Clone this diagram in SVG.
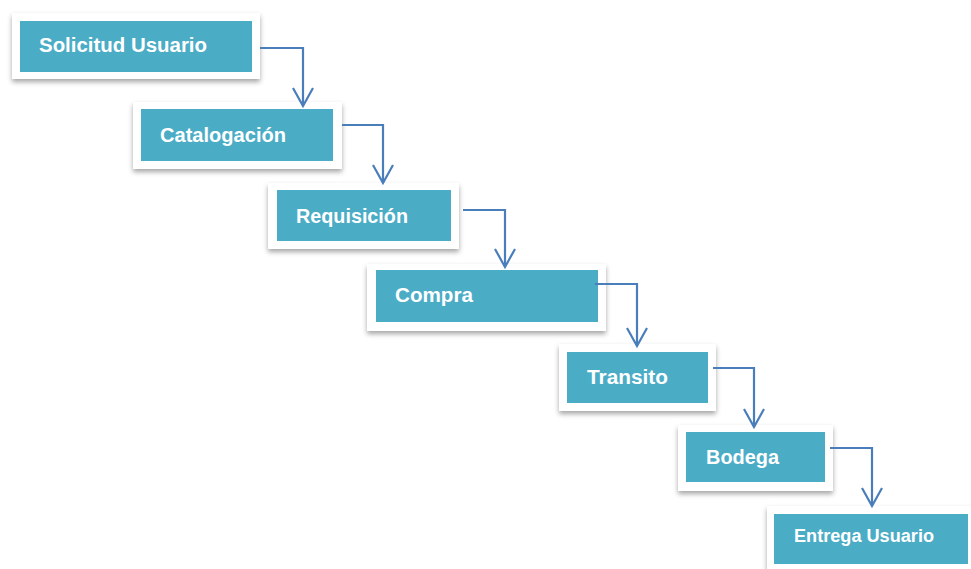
<svg xmlns="http://www.w3.org/2000/svg" width="971" height="569" viewBox="0 0 971 569">
<style>
.frame{fill:#fff;filter:url(#sh)}
.box{fill:#4BACC6}
.lbl{font-family:"Liberation Sans",Arial,sans-serif;font-weight:bold;font-size:20px;fill:#fff}
.conn{fill:none;stroke:#4A7EBB;stroke-width:2.2;marker-end:url(#ah)}
</style>
<defs>
<filter id="sh" x="-10%" y="-20%" width="120%" height="150%">
<feDropShadow dx="0" dy="3" stdDeviation="2.5" flood-color="#000" flood-opacity="0.35"/>
</filter>
<marker id="ah" markerUnits="userSpaceOnUse" viewBox="-20 -12 22 24" refX="0" refY="0" markerWidth="22" markerHeight="24" orient="auto" overflow="visible">
<path d="M-18,-10 L0,0 L-18,10" fill="none" stroke="#4A7EBB" stroke-width="2.2"/>
</marker>
</defs>
<g id="n1"><rect class="frame" x="12" y="13" width="248" height="66"/><rect class="box" x="20" y="21" width="232" height="51"/><text class="lbl" x="39" y="52" textLength="168" lengthAdjust="spacingAndGlyphs">Solicitud Usuario</text></g>
<g id="n2"><rect class="frame" x="133" y="102" width="209" height="67"/><rect class="box" x="141" y="109" width="192" height="52"/><text class="lbl" x="160" y="142" textLength="126" lengthAdjust="spacingAndGlyphs">Catalogación</text></g>
<g id="n3"><rect class="frame" x="268" y="183" width="191" height="66"/><rect class="box" x="277" y="190" width="174" height="51"/><text class="lbl" x="296" y="223" textLength="112" lengthAdjust="spacingAndGlyphs">Requisición</text></g>
<g id="n4"><rect class="frame" x="367" y="264" width="239" height="67"/><rect class="box" x="376" y="270" width="222" height="52"/><text class="lbl" x="395" y="302" textLength="78" lengthAdjust="spacingAndGlyphs">Compra</text></g>
<g id="n5"><rect class="frame" x="559" y="344" width="157" height="67"/><rect class="box" x="567" y="352" width="141" height="51"/><text class="lbl" x="587" y="384" textLength="81" lengthAdjust="spacingAndGlyphs">Transito</text></g>
<g id="n6"><rect class="frame" x="678" y="425" width="155" height="66"/><rect class="box" x="686" y="432" width="139" height="50"/><text class="lbl" x="706" y="464" textLength="73" lengthAdjust="spacingAndGlyphs">Bodega</text></g>
<g id="n7"><rect class="frame" x="767" y="506" width="210" height="70"/><rect class="box" x="774" y="514" width="194" height="50"/><text class="lbl" x="794" y="542" style="font-size:18px" textLength="140" lengthAdjust="spacingAndGlyphs">Entrega Usuario</text></g>
<g id="connectors">
<polyline class="conn" points="260,48 303,48 303,106"/>
<polyline class="conn" points="342,125 383,125 383,183"/>
<polyline class="conn" points="463,210 505,210 505,267"/>
<polyline class="conn" points="595,284 637,284 637,346"/>
<polyline class="conn" points="713,368 754,368 754,427"/>
<polyline class="conn" points="830,448 872,448 872,506"/>
</g>
</svg>
